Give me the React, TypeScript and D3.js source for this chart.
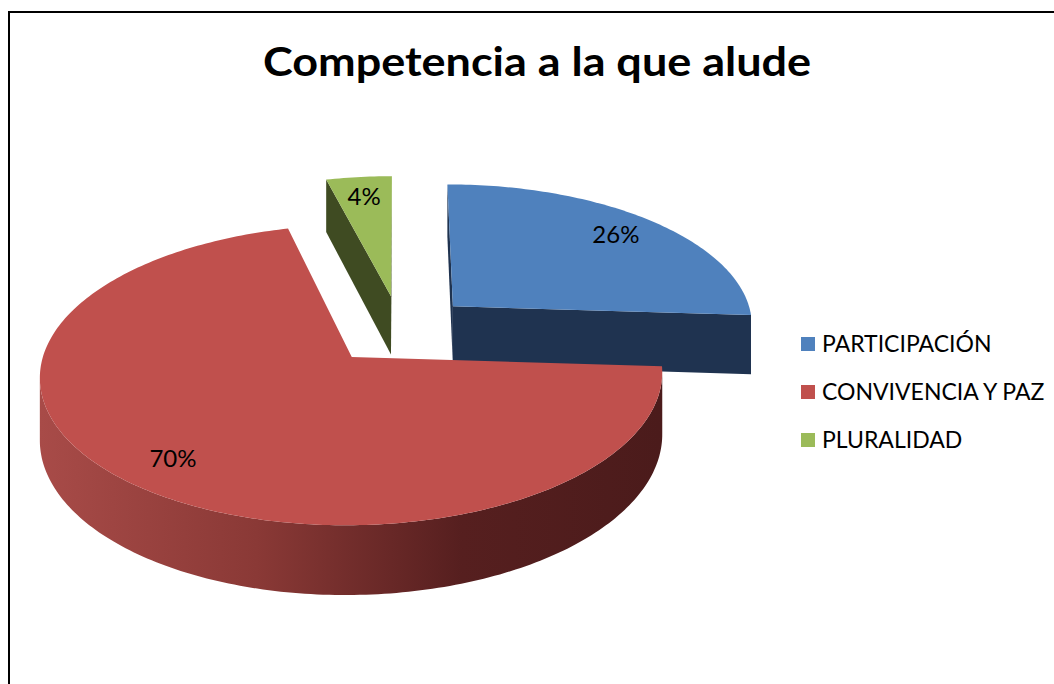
import React from 'react';
import * as d3 from 'd3';

const categories = ['PARTICIPACIÓN', 'CONVIVENCIA Y PAZ', 'PLURALIDAD'];
const values = [26, 70, 4];
const labels = ['26%', '70%', '4%'];
const topColors = ['#4F81BD', '#C0504D', '#9BBB59'];
const sideColors = ['#1F3350', 'url(#redSide)', '#3F4B22'];

const W = 1054;
const H = 684;

// view of the tilted pie
const cx = 400;
const cy = 329.6;
const kx = 302;
const ky = 141.5;
const persp = 0.118;
const depth = 60;
const explode = 0.245;
const labelR = 0.82;

const xScale = d3.scaleLinear().domain([-1, 1]).range([cx - kx, cx + kx]);
const yScale = d3.scaleLinear().domain([-1, 1]).range([cy + ky, cy - ky]);

// X to the right, Z to the back, t = 0 on top and 1 at the bottom
const project = (X: number, Z: number, t = 0): [number, number] => {
  const w = 1 + persp * Z;
  return [xScale(X / w), yScale(Z / w) + (depth * t) / w];
};

const area = (pts: [number, number][]) => {
  let s = 0;
  pts.forEach((p, i) => {
    const q = pts[(i + 1) % pts.length];
    s += p[0] * q[1] - q[0] * p[1];
  });
  return s;
};

const line = d3.line<[number, number]>().x(d => d[0]).y(d => d[1]);

const pie = d3.pie<number>().sort(null).value(d => d);

const App = () => {
  const arcs = pie(values);

  const slices = arcs.map((a, i) => {
    const mid = (a.startAngle + a.endAngle) / 2;
    const ox = explode * Math.sin(mid);
    const oz = explode * Math.cos(mid);
    const rim = (th: number, t: number) => project(ox + Math.sin(th), oz + Math.cos(th), t);
    const n = Math.max(2, Math.ceil((a.endAngle - a.startAngle) / (Math.PI / 180)));
    const angles = d3.range(n + 1).map(k => a.startAngle + ((a.endAngle - a.startAngle) * k) / n);

    const c0 = project(ox, oz, 0);
    const c1 = project(ox, oz, 1);
    const top = line([c0, ...angles.map(th => rim(th, 0))]) + 'Z';

    // front part of the outer wall
    const walls: string[] = [];
    let run: number[] = [];
    const flush = () => {
      if (run.length > 1) {
        const upper = run.map(th => rim(th, 0));
        const lower = run.map(th => rim(th, 1)).reverse();
        walls.push(line([...upper, ...lower]) + 'Z');
      }
      run = [];
    };
    for (let k = 0; k < angles.length - 1; k++) {
      const p = rim(angles[k], 0);
      const q = rim(angles[k + 1], 0);
      if (q[0] < p[0]) {
        if (!run.length) run.push(angles[k]);
        run.push(angles[k + 1]);
      } else flush();
    }
    flush();

    // cut faces
    const faces: string[] = [];
    const qs = [c0, rim(a.startAngle, 0), rim(a.startAngle, 1), c1];
    if (area(qs) < 0) faces.push(line(qs) + 'Z');
    const qe = [c0, rim(a.endAngle, 0), rim(a.endAngle, 1), c1];
    if (area(qe) > 0) faces.push(line(qe) + 'Z');

    const lp = project(ox + labelR * Math.sin(mid), oz + labelR * Math.cos(mid), 0);

    return { i, oz, top, walls, faces, lp };
  });

  const order = [...slices].sort((a, b) => b.oz - a.oz);

  return (
    <svg
      width={W}
      height={H}
      style={{ position: 'absolute', left: 0, top: 0, display: 'block', background: '#fff' }}
    >
      <defs>
        <linearGradient id="redSide" gradientUnits="userSpaceOnUse" x1={40} y1={0} x2={660} y2={0}>
          <stop offset="0" stopColor="#A84B48" />
          <stop offset="0.35" stopColor="#8A3936" />
          <stop offset="0.68" stopColor="#561F1F" />
          <stop offset="1" stopColor="#4B1B1B" />
        </linearGradient>
      </defs>

      <rect x={9} y={12} width={1200} height={800} fill="none" stroke="#000" strokeWidth={2} />

      <text
        x={537}
        y={76}
        textAnchor="middle"
        textLength={548}
        lengthAdjust="spacingAndGlyphs"
        fontFamily="Lato, 'Open Sans', sans-serif"
        fontWeight="bold"
        fontSize={41}
        fill="#000"
      >
        Competencia a la que alude
      </text>

      {order.map(s => (
        <g key={s.i}>
          {s.faces.map((d, k) => (
            <path key={'f' + k} d={d} fill={sideColors[s.i]} />
          ))}
          {s.walls.map((d, k) => (
            <path key={'w' + k} d={d} fill={sideColors[s.i]} />
          ))}
          <path d={s.top} fill={topColors[s.i]} />
        </g>
      ))}

      {slices.map(s => (
        <text
          key={'l' + s.i}
          x={s.lp[0]}
          y={s.lp[1]}
          dy="0.35em"
          textAnchor="middle"
          fontFamily="Lato, 'Open Sans', sans-serif"
          fontSize={24}
          fill="#000"
        >
          {labels[s.i]}
        </text>
      ))}

      {categories.map((c, i) => (
        <g key={c} transform={`translate(801, ${344 + i * 48})`}>
          <rect x={0} y={-7} width={14} height={14} fill={topColors[i]} />
          <text x={21} y={8} fontFamily="Lato, 'Open Sans', sans-serif" fontSize={23} fill="#000">
            {c}
          </text>
        </g>
      ))}
    </svg>
  );
};

export default App;
